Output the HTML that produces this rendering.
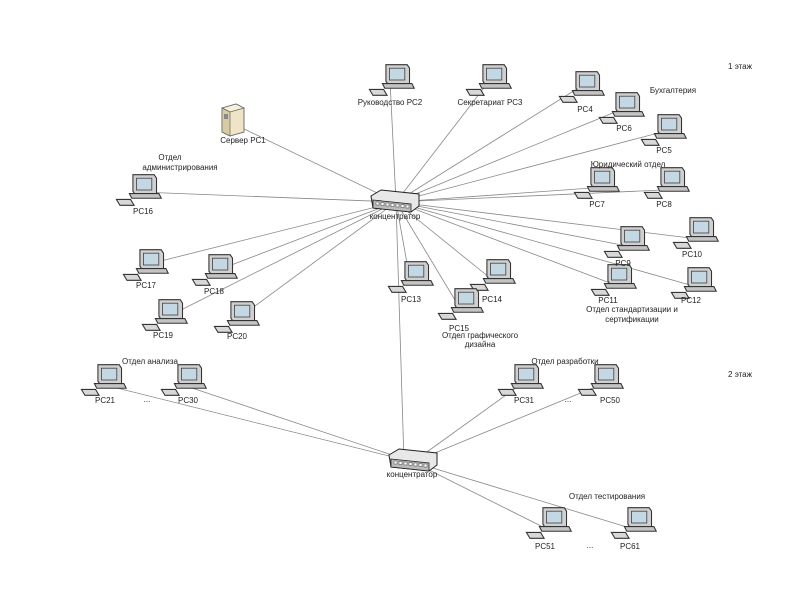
<!DOCTYPE html>
<html><head><meta charset="utf-8"><style>
html,body{margin:0;padding:0;background:#fff;}
svg text{font-family:"Liberation Sans",sans-serif;font-size:8px;fill:#222;}
</style></head><body>
<svg width="800" height="600" viewBox="0 0 800 600" xmlns="http://www.w3.org/2000/svg">
<defs>
<g id="pc0">
  <polygon points="-6,-13 12,-13 14,-10 14,4 -4,4 -6,1" fill="#d0d0d0" stroke="#333" stroke-width="0.9"/>
  <rect x="-3" y="-10" width="13" height="10" fill="#c4d8e4" stroke="#444" stroke-width="0.7"/>
  <polygon points="-9,3 16,3 18,7 -7,7" fill="#c4c4c4" stroke="#333" stroke-width="0.9"/>
  <polygon points="-20,8 -8,8 -5,13 -17,13" fill="#d8d8d8" stroke="#333" stroke-width="0.9"/>
</g>
<g id="pc"><use href="#pc0" transform="scale(1.18)"/></g>
<g id="hub">
  <polygon points="-24,-6 -14,-12 24,-8 24,4 16,10 -22,6" fill="#e8e8e8" stroke="#222" stroke-width="1"/>
  <polygon points="-22,-2 16,2 16,10 -22,6" fill="#bbb" stroke="#222" stroke-width="0.8"/>
  <g fill="#fff" stroke="#444" stroke-width="0.5">
  <rect x="-19" y="0" width="3" height="3"/><rect x="-14" y="0.5" width="3" height="3"/><rect x="-9" y="1" width="3" height="3"/><rect x="-4" y="1.5" width="3" height="3"/><rect x="1" y="2" width="3" height="3"/><rect x="6" y="2.5" width="3" height="3"/><rect x="11" y="3" width="3" height="3"/>
  </g>
</g>
</defs>
<g stroke="#888" stroke-width="0.8" fill="none">
<line x1="396" y1="202" x2="390" y2="80"/>
<line x1="396" y1="202" x2="490" y2="80"/>
<line x1="396" y1="202" x2="580" y2="87"/>
<line x1="396" y1="202" x2="620" y2="110"/>
<line x1="396" y1="202" x2="662" y2="132"/>
<line x1="396" y1="202" x2="236" y2="125"/>
<line x1="396" y1="202" x2="140" y2="192"/>
<line x1="396" y1="202" x2="592" y2="188"/>
<line x1="396" y1="202" x2="662" y2="190"/>
<line x1="396" y1="202" x2="622" y2="245"/>
<line x1="396" y1="202" x2="690" y2="238"/>
<line x1="396" y1="202" x2="610" y2="283"/>
<line x1="396" y1="202" x2="690" y2="285"/>
<line x1="396" y1="202" x2="410" y2="280"/>
<line x1="396" y1="202" x2="490" y2="278"/>
<line x1="396" y1="202" x2="458" y2="305"/>
<line x1="396" y1="202" x2="145" y2="265"/>
<line x1="396" y1="202" x2="213" y2="272"/>
<line x1="396" y1="202" x2="165" y2="318"/>
<line x1="396" y1="202" x2="236" y2="320"/>
<line x1="396" y1="202" x2="404" y2="462"/>
<line x1="413" y1="462" x2="105" y2="385"/>
<line x1="413" y1="462" x2="183" y2="385"/>
<line x1="413" y1="462" x2="520" y2="385"/>
<line x1="413" y1="462" x2="600" y2="385"/>
<line x1="413" y1="462" x2="545" y2="528"/>
<line x1="413" y1="462" x2="630" y2="528"/>
</g>
<g>
  <polygon points="222,108 236,104 244,108 244,132 230,136 222,132" fill="#efe4c6" stroke="#666" stroke-width="0.9"/>
  <polygon points="222,108 236,104 244,108 230,112" fill="#f6efd9" stroke="#666" stroke-width="0.7"/>
  <polygon points="222,108 230,112 230,136 222,132" fill="#d8caa4" stroke="#666" stroke-width="0.7"/>
  <rect x="224" y="114" width="4" height="5" fill="#888"/>
</g>
<use href="#hub" x="395" y="202"/>
<use href="#hub" x="413" y="461"/>
<g>
<use href="#pc" x="393" y="80"/><use href="#pc" x="490" y="80"/><use href="#pc" x="583" y="87"/>
<use href="#pc" x="623" y="108"/><use href="#pc" x="665" y="130"/><use href="#pc" x="140" y="190"/>
<use href="#pc" x="598" y="183"/><use href="#pc" x="668" y="183"/><use href="#pc" x="628" y="242"/>
<use href="#pc" x="697" y="233"/><use href="#pc" x="615" y="280"/><use href="#pc" x="695" y="283"/>
<use href="#pc" x="412" y="277"/><use href="#pc" x="494" y="275"/><use href="#pc" x="462" y="304"/>
<use href="#pc" x="147" y="265"/><use href="#pc" x="216" y="270"/><use href="#pc" x="166" y="315"/>
<use href="#pc" x="238" y="317"/><use href="#pc" x="105" y="380"/><use href="#pc" x="185" y="380"/>
<use href="#pc" x="522" y="380"/><use href="#pc" x="602" y="380"/><use href="#pc" x="550" y="523"/>
<use href="#pc" x="635" y="523"/>
</g>
<g text-anchor="middle">
<text x="390" y="105">Руководство PC2</text>
<text x="490" y="105">Секретариат PC3</text>
<text x="585" y="112">PC4</text>
<text x="624" y="131">PC6</text>
<text x="664" y="153">PC5</text>
<text x="243" y="143">Сервер PC1</text>
<text x="143" y="214">PC16</text>
<text x="597" y="207">PC7</text>
<text x="664" y="207">PC8</text>
<text x="623" y="266">PC9</text>
<text x="692" y="257">PC10</text>
<text x="608" y="303">PC11</text>
<text x="691" y="303">PC12</text>
<text x="632" y="312">Отдел стандартизации и</text>
<text x="632" y="322">сертификации</text>
<text x="411" y="302">PC13</text>
<text x="492" y="302">PC14</text>
<text x="459" y="331">PC15</text>
<text x="480" y="338">Отдел графического</text>
<text x="480" y="347">дизайна</text>
<text x="146" y="288">PC17</text>
<text x="214" y="294">PC18</text>
<text x="163" y="338">PC19</text>
<text x="237" y="339">PC20</text>
<text x="395" y="219">концентратор</text>
<text x="412" y="477">концентратор</text>
<text x="105" y="403">PC21</text>
<text x="147" y="402">...</text>
<text x="188" y="403">PC30</text>
<text x="524" y="403">PC31</text>
<text x="568" y="402">...</text>
<text x="610" y="403">PC50</text>
<text x="545" y="549">PC51</text>
<text x="590" y="548">...</text>
<text x="630" y="549">PC61</text>
<text x="170" y="160">Отдел</text>
<text x="180" y="170">администрирования</text>
<text x="150" y="364">Отдел анализа</text>
<text x="565" y="364">Отдел разработки</text>
<text x="607" y="499">Отдел тестирования</text>
<text x="673" y="93">Бухгалтерия</text>
<text x="628" y="167">Юридический отдел</text>
<text x="740" y="69">1 этаж</text>
<text x="740" y="377">2 этаж</text>
</g>
</svg>
</body></html>
